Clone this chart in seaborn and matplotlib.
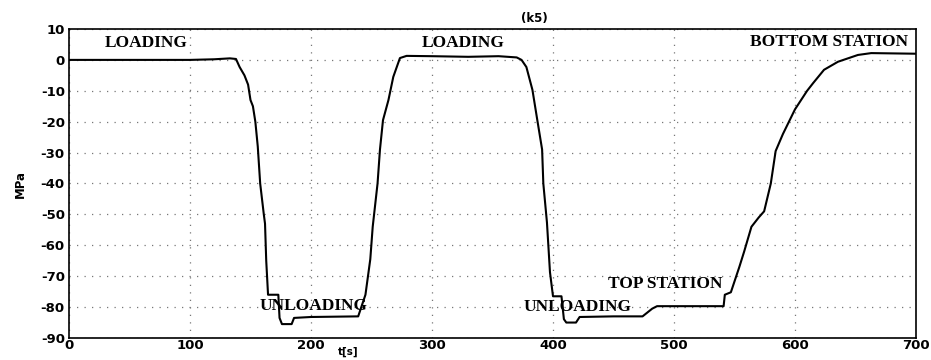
import matplotlib
matplotlib.use("Agg")
import matplotlib.pyplot as plt
import seaborn as sns
import pandas as pd

# data
t_s = [0, 60, 100, 120, 133, 138, 141, 145, 148, 150, 152, 154, 156, 158, 161, 162, 163, 164.5,
       173, 174, 176, 184, 186, 200, 239, 245, 249, 251, 255, 257, 259.5, 264, 268, 273.5, 279,
       300, 330, 355, 370, 374, 378, 383, 387, 391, 392, 395, 397.5, 400, 407, 409, 411, 419, 422,
       450, 474, 482, 486, 541, 542, 547, 554, 558, 564, 570, 574.5, 580, 584, 590, 595, 600, 605,
       610, 615, 624, 635.5, 652, 663, 700]
mpa = [0, 0, 0, 0.2, 0.5, 0.3, -2.3, -5, -8, -13, -15, -20, -28, -40, -50, -53, -65, -76,
       -76, -83.5, -85.5, -85.5, -83.5, -83.2, -83, -76, -64.5, -54, -40, -29, -19.5, -13, -5.5, 0.6, 1.3,
       1.2, 1.0, 1.2, 0.8, 0, -2.3, -9.7, -19.4, -29, -40, -52.6, -68.7, -76.5, -76.5, -83.9, -85, -85, -83.2,
       -83, -83, -80.5, -79.7, -79.7, -76, -75.2, -67, -62, -54, -51, -49, -40, -29.5, -24, -20, -16, -13,
       -10, -7.5, -3.2, -0.6, 1.6, 2.2, 2.0]
x_ticks = [0, 100, 200, 300, 400, 500, 600, 700]
y_ticks = [-90, -80, -70, -60, -50, -40, -30, -20, -10, 0, 10]
labels = ["LOADING", "LOADING", "UNLOADING", "UNLOADING", "TOP STATION", "BOTTOM STATION"]
label_t = [64, 326, 202, 420, 492.5, 628]
label_v = [5.5, 5.5, -79.7, -80, -72.5, 5.8]

df = pd.DataFrame({"t": t_s, "MPa": mpa})

sns.set_theme(style="white")
plt.rcParams["font.family"] = ["DejaVu Sans"]
plt.rcParams["axes.unicode_minus"] = False

fig = plt.figure(figsize=(9.31, 3.6), dpi=100)
ax = fig.add_axes([69 / 931, 22 / 360, (916 - 69) / 931, (338 - 29) / 360])

sns.lineplot(data=df, x="t", y="MPa", ax=ax, color="black", linewidth=1.5)

ax.set_xlim(0, 700)
ax.set_ylim(-90, 10)
ax.set_xticks(x_ticks)
ax.set_yticks(y_ticks)
ax.tick_params(axis="both", direction="in", length=4, labelsize=9.5, colors="black")
ax.tick_params(axis="x", pad=1)
ax.tick_params(axis="y", pad=3)
for lab in ax.get_xticklabels() + ax.get_yticklabels():
    lab.set_fontweight("bold")
ax.grid(True, color="#777777", linestyle=(0, (1, 5)), linewidth=0.9)
for s in ax.spines.values():
    s.set_color("black")
    s.set_linewidth(1.2)

ax.set_xlabel("")
ax.set_ylabel("MPa", fontsize=8.5, fontweight="bold", labelpad=10, color="black")
ax.text(0.330, -0.028, "t[s]", transform=ax.transAxes, ha="center", va="top",
        fontsize=7.5, fontweight="bold", color="black")
ax.text(385, 11.3, "(k5)", ha="center", va="bottom", fontsize=8.5, fontweight="bold", color="black")

for lab, tt, vv in zip(labels, label_t, label_v):
    ax.text(tt, vv, lab, ha="center", va="center", family="Liberation Serif",
            fontweight="bold", fontsize=12.5, color="black")

fig.savefig("out.png", dpi=100)
